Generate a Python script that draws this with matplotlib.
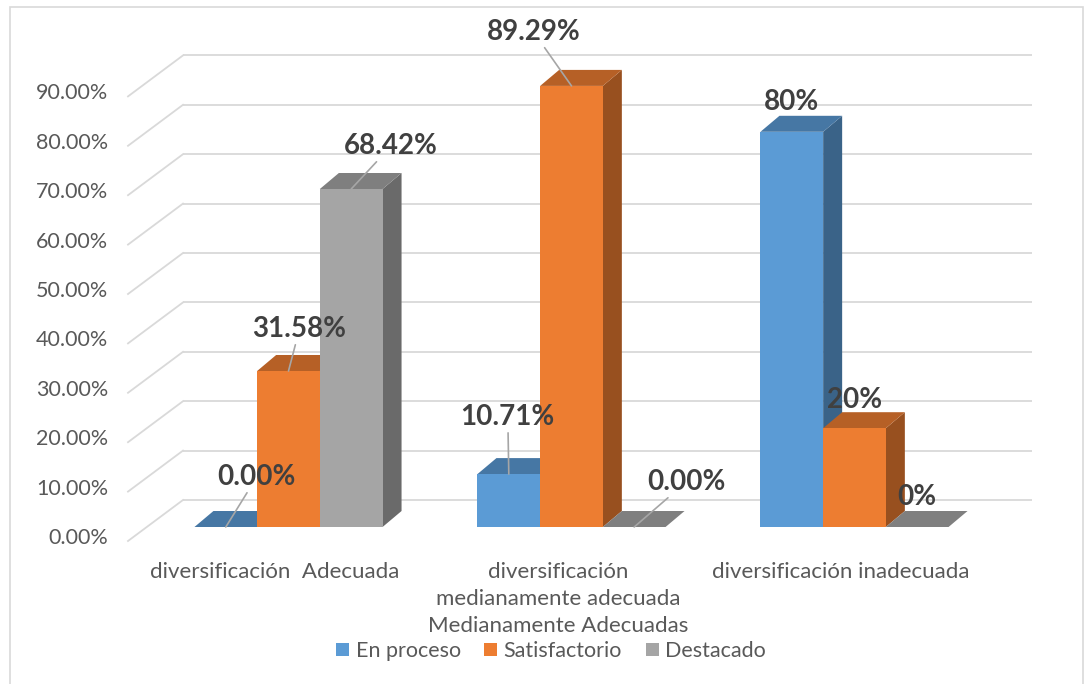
import matplotlib
matplotlib.use("Agg")
import matplotlib.pyplot as plt
from matplotlib.patches import Polygon, Rectangle, Patch
import numpy as np

plt.rcParams['font.family'] = ['Lato', 'DejaVu Sans']

# data
categories = ["diversificación  Adecuada",
              "diversificación\nmedianamente adecuada\nMedianamente Adecuadas",
              "diversificación inadecuada"]
series_names = ["En proceso", "Satisfactorio", "Destacado"]
en_proceso = [0.00, 10.71, 80.0]
satisfactorio = [31.58, 89.29, 20.0]
destacado = [68.42, 0.00, 0.0]
value_labels = [["0.00%", "10.71%", "80%"],
                ["31.58%", "89.29%", "20%"],
                ["68.42%", "0.00%", "0%"]]
yticks = [0, 10, 20, 30, 40, 50, 60, 70, 80, 90]
ytick_labels = ["%.2f%%" % t for t in yticks]

series = [en_proceso, satisfactorio, destacado]
colors = ['#5B9BD5', '#ED7D31', '#A5A5A5']

# style: label offsets in pixels from top-front center of each bar
label_offsets = [[(31, 50), (-1, 57), (0, 30)],
                 [(11, 42), (-38, 54), (0, 28)],
                 [(40, 43), (52, 45), (0, 30)]]
leaders = [[True, True, False],
           [True, True, False],
           [True, True, False]]

W, H = 1085, 684
fig = plt.figure(figsize=(W / 100, H / 100), dpi=100)
ax = fig.add_axes([0, 0, 1, 1])
ax.axis('off')

px_x = 283.0      # pixels per category
px_y = 4.94       # pixels per percent
x0_px, y0_px = 288.5, 527.0
ax.set_xlim(-x0_px / px_x, (W - x0_px) / px_x)
ax.set_ylim((y0_px - H) / px_y, y0_px / px_y)

# 3d offsets (data units)
bw = 62.7 / px_x
dx, dy = 19 / px_x, 16 / px_y          # bar depth
BX, BY = 36 / px_x, 27 / px_y          # back wall
FX, FY = -19 / px_x, -14 / px_y        # front edge of floor
xl, xr = -0.5, 2.5

grid_c = '#D9D9D9'
for t, lab in zip(yticks, ytick_labels):
    ax.plot([xl + BX, xr + BX], [t + BY, t + BY], color=grid_c, lw=1.3, zorder=1,
            solid_capstyle='butt')
    ax.plot([xl + FX, xl + BX], [t + FY, t + BY], color=grid_c, lw=1.3, zorder=1)
    ax.annotate(lab, (xl + FX, t + FY), xytext=(-20, 3), textcoords='offset pixels',
                ha='right', va='center', fontsize=15.5, color='#595959')


def shade(c, f):
    r, g, b = matplotlib.colors.to_rgb(c)
    return (r * f, g * f, b * f)


k = 0
for i in range(len(categories)):
    for j, vals in enumerate(series):
        v = vals[i]
        xc = i + (j - 1) * bw
        a, b = xc - bw / 2, xc + bw / 2
        z = 2 + k * 0.01
        k += 1
        c = colors[j]
        if v > 0:
            ax.add_patch(Polygon([(b, 0), (b + dx, dy), (b + dx, v + dy), (b, v)],
                                 closed=True, fc=shade(c, 0.64), ec='none', zorder=z))
            ax.bar(xc, v, width=bw, color=c, zorder=z + 0.002, lw=0)
        ax.add_patch(Polygon([(a, v), (b, v), (b + dx, v + dy), (a + dx, v + dy)],
                             closed=True, fc=shade(c, 0.77), ec='none', zorder=z + 0.001))
        ox, oy = label_offsets[j][i]
        props = None
        if leaders[j][i]:
            props = dict(arrowstyle='-', color='#A6A6A6', lw=1.2, shrinkA=0, shrinkB=0)
        ax.annotate(value_labels[j][i], (xc, v), xytext=(ox, oy), textcoords='offset pixels',
                    ha='center', va='center', fontsize=20, fontweight='bold',
                    color='#404040', zorder=10, arrowprops=props)

for i, cat in enumerate(categories):
    ax.annotate(cat, (i - 0.048, FY), xytext=(0, -21), textcoords='offset pixels',
                ha='center', va='top', fontsize=16, color='#595959', linespacing=1.45)

handles = [Patch(facecolor=c, edgecolor='none') for c in colors]
fig.legend(handles, series_names, loc='center', bbox_to_anchor=(551 / W, 1 - 651 / H),
           ncol=3, frameon=False, fontsize=15.5, handlelength=0.6, handleheight=0.6,
           handletextpad=0.3, columnspacing=1.1, labelcolor='#595959')

fig.add_artist(Rectangle((10 / W, -0.01), (1083 - 10) / W, 1 - 7 / H + 0.01,
                         transform=fig.transFigure, fill=False, ec='#D9D9D9', lw=1.2))

fig.savefig('out.png', dpi=100)
